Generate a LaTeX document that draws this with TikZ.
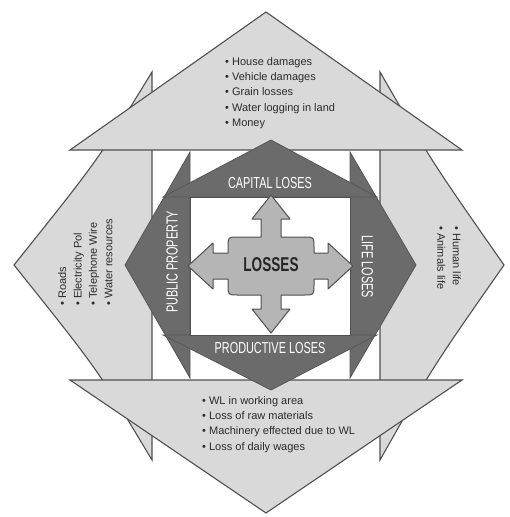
\documentclass[tikz,border=0pt]{standalone}
\usepackage{fontspec}
\setmainfont{Liberation Sans}
\newfontfamily\condfont[FakeStretch=0.68]{Liberation Sans}

\definecolor{paneFill}{HTML}{D9D9D9}
\definecolor{edgeGray}{HTML}{505050}
\definecolor{coreFill}{HTML}{6B6B6B}
\definecolor{hubFill}{HTML}{B5B5B5}
\definecolor{listInk}{HTML}{2B2B2B}

\tikzset{
  pane/.style={fill=paneFill, draw=edgeGray, line width=1.1pt, line join=miter},
  core/.style={fill=coreFill, draw=coreFill!80!black, line width=0.8pt},
  hub/.style={fill=hubFill, draw=edgeGray, line width=1pt, line join=round},
  bullets/.style={inner sep=0pt, align=left, text=listInk,
    font=\fontsize{11}{15.4}\selectfont},
  corelabel/.style={inner sep=0pt, text=white,
    font=\condfont\fontsize{16}{16}\selectfont},
}

\begin{document}
\begin{tikzpicture}[x=1pt,y=-1pt]
\useasboundingbox (0,0) rectangle (509,517);
\fill[white] (0,0) rectangle (509,517);

% side chevrons (behind)
\draw[pane] (152,72) .. controls (98,160) .. (14,265)
            .. controls (98,370) .. (152,460) -- cycle;
\draw[pane] (380,72) .. controls (432,162) .. (504,265)
            .. controls (432,368) .. (380,460) -- cycle;

% upper and lower triangles
\draw[pane] (70,150) -- (266,12) -- (462,150) -- cycle;
\draw[pane] (70,380) -- (266,513) -- (462,380) -- cycle;

% dark inner frame
\draw[core] (190,152) -- (125,265) -- (190,378) -- cycle;
\draw[core] (350,152) -- (416,265) -- (350,378) -- cycle;
\draw[core] (163,197) -- (271,140) -- (377,197) -- cycle;
\draw[core] (163,335) -- (271,390) -- (377,335) -- cycle;
\draw[fill=white, draw=edgeGray, line width=0.8pt] (190,197) rectangle (350,335);

% four-way arrow around the hub
\begin{scope}[shift={(271,266)}]
\draw[hub] (0,-71) -- (19,-47) -- (10,-47) -- (10,-29) -- (33,-29)
  .. controls (43,-29) .. (43,-19) -- (43,-13) -- (57,-13) -- (57,-23)
  -- (82,0) -- (57,23) -- (57,13) -- (43,13) -- (43,19)
  .. controls (43,29) .. (33,29) -- (10,29) -- (10,43) -- (19,43)
  -- (0,67) -- (-19,43) -- (-10,43) -- (-10,29) -- (-33,29)
  .. controls (-43,29) .. (-43,19) -- (-43,13) -- (-58,13) -- (-58,23)
  -- (-83,0) -- (-58,-23) -- (-58,-13) -- (-43,-13) -- (-43,-19)
  .. controls (-43,-29) .. (-33,-29) -- (-10,-29) -- (-10,-47)
  -- (-19,-47) -- cycle;
\end{scope}

% labels of the inner frame
\node[corelabel] (capital) at (270,182.5) {CAPITAL LOSES};
\node[corelabel] (productive) at (270,348) {PRODUCTIVE LOSES};
\node[corelabel, rotate=90] (public) at (172,262) {PUBLIC PROPERTY};
\node[corelabel, rotate=-90] (life) at (367.5,267) {LIFE LOSES};
\node[inner sep=0pt, text=black!85,
      font=\condfont\bfseries\fontsize{20}{20}\selectfont] (losses) at (271,265) {LOSSES};

% bullet lists
\node[bullets, anchor=north west] (upperlist) at (225,57)
  {\textbullet\ House damages\\ \textbullet\ Vehicle damages\\
   \textbullet\ Grain losses\\ \textbullet\ Water logging in land\\
   \textbullet\ Money};
\node[bullets, anchor=north west] (lowerlist) at (202,396)
  {\textbullet\ WL in working area\\ \textbullet\ Loss of raw materials\\
   \textbullet\ Machinery effected due to WL\\ \textbullet\ Loss of daily wages};
\node[bullets, rotate=90, anchor=north west] (leftlist) at (58,306)
  {\textbullet\ Roads\\ \textbullet\ Electricity Pol\\
   \textbullet\ Telephone Wire\\ \textbullet\ Water resources};
\node[bullets, rotate=-90, anchor=north west] (rightlist) at (461,226)
  {\textbullet\ Human life\\ \textbullet\ Animals life};
\end{tikzpicture}
\end{document}
